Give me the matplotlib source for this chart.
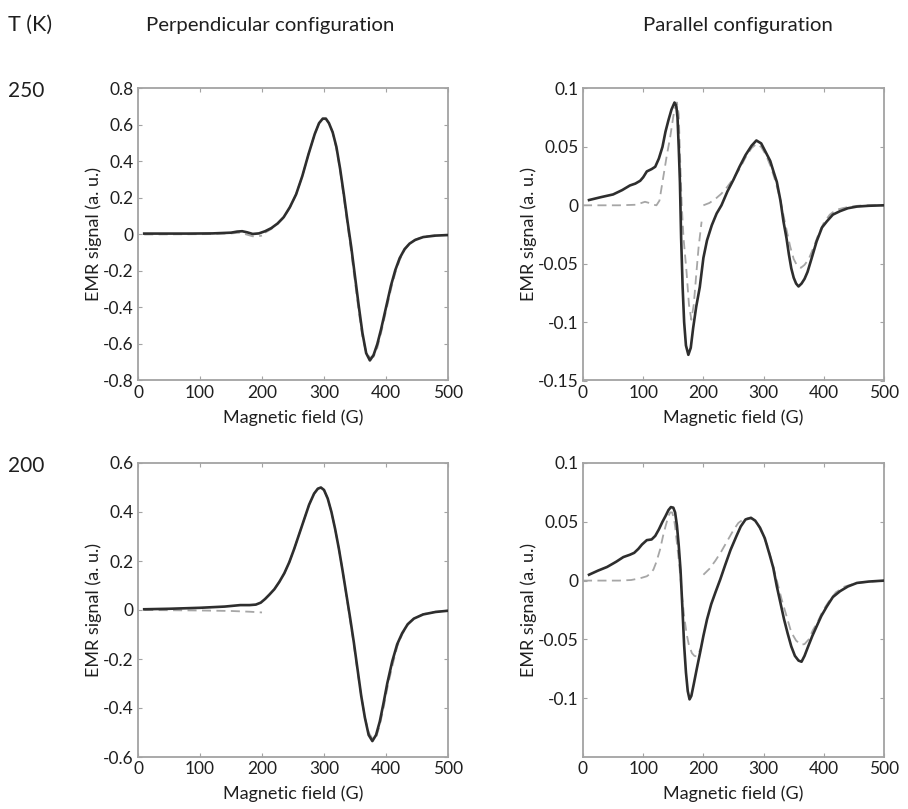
#!/usr/bin/env python3
"""EMR spectra at 250 K and 200 K in perpendicular and parallel configuration.

Solid lines are the measured derivative spectra, dashed lines the simulated ones.
The simulation is split at 200 G, so each dashed trace carries a NaN break there.
"""

from __future__ import annotations

import matplotlib

matplotlib.use("Agg")
import matplotlib.pyplot as plt
import numpy as np

NAN = np.nan

# ---- Perpendicular configuration, 250 K -------------------------------------
PERP_250_FIELD = [10, 40, 80, 120, 150, 160, 168, 176, 185, 195, 205, 215, 225, 235,
                  245, 255, 265, 275, 285, 292, 298, 303, 308, 314, 320, 326, 332, 338,
                  344, 350, 356, 362, 368, 374, 380, 386, 392, 400, 408, 415, 422, 430,
                  438, 447, 460, 480, 500]
PERP_250_EXP = [0.005, 0.005, 0.005, 0.006, 0.01, 0.016, 0.018, 0.012, 0.003, 0.006,
                0.018, 0.035, 0.06, 0.095, 0.15, 0.22, 0.32, 0.44, 0.55, 0.61, 0.635,
                0.635, 0.61, 0.56, 0.48, 0.36, 0.22, 0.07, -0.07, -0.23, -0.39, -0.54,
                -0.65, -0.69, -0.66, -0.6, -0.52, -0.4, -0.28, -0.195, -0.13, -0.08,
                -0.05, -0.03, -0.014, -0.006, -0.003]
PERP_250_SIM_FIELD = [10, 60, 110, 150, 165, 175, 185, 195, 200, 200, 205, 215, 225,
                      235, 245, 255, 265, 275, 285, 292, 298, 303, 308, 314, 320, 326,
                      332, 338, 344, 350, 356, 362, 368, 374, 380, 386, 392, 400, 408,
                      415, 422, 430, 438, 447, 460, 480, 500]
PERP_250_SIM = [0.0, 0.001, 0.002, 0.006, 0.01, 0.0, -0.01, -0.009, -0.006, NAN, 0.01,
                0.03, 0.057, 0.093, 0.148, 0.22, 0.32, 0.44, 0.55, 0.61, 0.632, 0.632,
                0.61, 0.56, 0.47, 0.35, 0.2, 0.05, -0.1, -0.26, -0.42, -0.56, -0.645,
                -0.675, -0.67, -0.62, -0.54, -0.42, -0.3, -0.21, -0.14, -0.085, -0.05,
                -0.028, -0.012, -0.004, -0.002]

# ---- Parallel configuration, 250 K ------------------------------------------
PAR_250_FIELD = [10, 30, 50, 65, 78, 87, 95, 100, 106, 114, 120, 126, 132, 137, 142,
                 147, 152, 155, 157, 159, 161, 163, 165.5, 168, 171, 175, 179, 183, 188,
                 194, 200, 206, 214, 222, 230, 240, 250, 260, 270, 280, 288, 296, 304,
                 311, 317, 322, 328, 333, 338, 342, 346, 350, 354, 358, 363, 368, 373,
                 380, 388, 397, 405, 415, 427, 440, 455, 475, 500]
PAR_250_EXP = [0.0045, 0.007, 0.0093, 0.013, 0.017, 0.0186, 0.021, 0.024, 0.029, 0.031,
               0.033, 0.040, 0.05, 0.063, 0.073, 0.082, 0.088, 0.085, 0.075, 0.05, 0.02,
               -0.028, -0.07, -0.1, -0.12, -0.128, -0.122, -0.105, -0.087, -0.07,
               -0.045, -0.03, -0.017, -0.007, 0.0, 0.012, 0.022, 0.033, 0.043, 0.051,
               0.0555, 0.053, 0.045, 0.038, 0.028, 0.02, 0.004, -0.0138, -0.028, -0.042,
               -0.054, -0.062, -0.067, -0.0695, -0.067, -0.063, -0.057, -0.045, -0.031,
               -0.019, -0.0138, -0.008, -0.005, -0.0025, -0.0011, -0.0004, 0.0]
PAR_250_SIM_FIELD = [0, 30, 60, 90, 97, 103, 110, 117, 122, 127, 133, 139, 145, 150,
                     153, 156, 159, 161, 164, 167, 172, 176, 180, 184, 188, 192, 197,
                     198, 200, 210, 220, 230, 240, 250, 260, 270, 280, 288, 296, 304,
                     312, 320, 328, 336, 344, 350, 356, 362, 368, 375, 383, 391, 400,
                     410, 420, 431, 445, 465, 500]
PAR_250_SIM = [0.0, 0.0, 0.0, 0.0005, 0.002, 0.003, 0.002, 0.0005, 0.0, 0.004, 0.023,
               0.042, 0.059, 0.076, 0.084, 0.088, 0.078, 0.045, 0.0, -0.028, -0.057,
               -0.085, -0.098, -0.085, -0.06, -0.036, -0.014, NAN, 0.0, 0.002, 0.0055,
               0.01, 0.016, 0.023, 0.031, 0.041, 0.049, 0.0525, 0.05, 0.043, 0.033,
               0.02, 0.004, -0.016, -0.035, -0.046, -0.052, -0.0535, -0.051, -0.046,
               -0.036, -0.025, -0.015, -0.008, -0.004, -0.0025, -0.001, 0.0, 0.0]

# ---- Perpendicular configuration, 200 K -------------------------------------
PERP_200_FIELD = [10, 50, 100, 140, 165, 180, 190, 198, 205, 212, 220, 228, 236, 244,
                  252, 260, 268, 276, 284, 290, 295, 300, 306, 312, 318, 324, 330, 336,
                  342, 348, 354, 360, 366, 372, 378, 384, 390, 396, 402, 410, 418, 426,
                  435, 445, 460, 480, 500]
PERP_200_EXP = [0.003, 0.005, 0.009, 0.014, 0.02, 0.02, 0.022, 0.03, 0.045, 0.063,
                0.085, 0.115, 0.15, 0.195, 0.25, 0.31, 0.37, 0.43, 0.475, 0.495, 0.5,
                0.49, 0.455, 0.4, 0.33, 0.25, 0.16, 0.065, -0.03, -0.13, -0.24, -0.35,
                -0.44, -0.51, -0.535, -0.51, -0.455, -0.38, -0.3, -0.21, -0.14, -0.095,
                -0.058, -0.035, -0.018, -0.008, -0.003]
PERP_200_SIM_FIELD = [10, 50, 100, 150, 180, 200, 201, 205, 212, 220, 228, 236, 244,
                      252, 260, 268, 276, 284, 290, 295, 300, 306, 312, 318, 324, 330,
                      336, 342, 348, 354, 360, 366, 372, 378, 384, 390, 396, 402, 410,
                      418, 426, 435, 445, 460, 480, 500]
PERP_200_SIM = [0.0, -0.001, -0.002, -0.004, -0.007, -0.01, NAN, 0.045, 0.063, 0.085,
                0.115, 0.15, 0.195, 0.25, 0.31, 0.37, 0.43, 0.475, 0.495, 0.5, 0.49,
                0.455, 0.4, 0.33, 0.25, 0.16, 0.06, -0.04, -0.14, -0.25, -0.35, -0.44,
                -0.5, -0.525, -0.52, -0.47, -0.4, -0.32, -0.23, -0.15, -0.1, -0.06,
                -0.035, -0.017, -0.007, -0.003]

# ---- Parallel configuration, 200 K ------------------------------------------
PAR_200_FIELD = [10, 25, 40, 55, 67, 78, 85, 92, 98, 106, 114, 120, 126, 132, 137, 142,
                 146, 150, 153, 156, 159, 162, 165, 168, 171, 174, 177, 180, 184, 189,
                 195, 200, 206, 213, 220, 228, 236, 245, 255, 262, 270, 279, 286, 294,
                 302, 310, 316, 322, 328, 334, 340, 346, 352, 358, 363, 368, 374, 381,
                 388, 396, 405, 415, 427, 440, 455, 475, 500]
PAR_200_EXP = [0.005, 0.0085, 0.0116, 0.016, 0.020, 0.022, 0.0236, 0.027, 0.0307, 0.0344,
               0.035, 0.038, 0.0435, 0.05, 0.0548, 0.06, 0.0625, 0.062, 0.058, 0.047,
               0.03, 0.009, -0.022, -0.055, -0.078, -0.094, -0.101, -0.098, -0.088,
               -0.075, -0.06, -0.047, -0.033, -0.02, -0.01, 0.001, 0.013, 0.026, 0.038,
               0.046, 0.052, 0.0534, 0.051, 0.045, 0.036, 0.022, 0.011, -0.005, -0.019,
               -0.033, -0.045, -0.056, -0.064, -0.068, -0.069, -0.064, -0.056, -0.047,
               -0.039, -0.03, -0.022, -0.014, -0.009, -0.005, -0.002, -0.0008, 0.0]
PAR_200_SIM_FIELD = [0, 30, 60, 80, 95, 106, 112, 117, 122, 128, 133, 137, 142, 145,
                     148, 151, 153, 156, 159, 162, 165, 168, 172, 176, 181, 185, 189,
                     192, 195, 197, 200, 210, 220, 230, 240, 250, 258, 266, 274, 282,
                     290, 298, 306, 314, 322, 330, 338, 346, 354, 362, 368, 375, 382,
                     390, 398, 408, 420, 435, 455, 475, 500]
PAR_200_SIM = [0.0, 0.0, 0.0, 0.0005, 0.002, 0.0037, 0.006, 0.0094, 0.016, 0.0264,
               0.038, 0.046, 0.055, 0.058, 0.058, 0.053, 0.046, 0.032, 0.018, 0.002,
               -0.016, -0.03, -0.045, -0.055, -0.0617, -0.064, -0.0645, -0.062, -0.058,
               NAN, 0.005, 0.01, 0.017, 0.025, 0.034, 0.043, 0.049, 0.052, 0.053,
               0.0525, 0.048, 0.04, 0.03, 0.016, 0.0, -0.016, -0.03, -0.044, -0.051,
               -0.0545, -0.054, -0.05, -0.042, -0.035, -0.026, -0.018, -0.01, -0.005,
               -0.002, -0.001, 0.0]

FIELD_TICKS = [0, 100, 200, 300, 400, 500]
PERP_250_TICKS = [-0.8, -0.6, -0.4, -0.2, 0, 0.2, 0.4, 0.6, 0.8]
PERP_200_TICKS = [-0.6, -0.4, -0.2, 0, 0.2, 0.4, 0.6]
PAR_250_TICKS = [-0.15, -0.1, -0.05, 0, 0.05, 0.1]
PAR_200_TICKS = [-0.1, -0.05, 0, 0.05, 0.1]

TEMPERATURES = ["250", "200"]
COLUMN_TITLES = ["Perpendicular configuration", "Parallel configuration"]

FONT = ["Lato", "DejaVu Sans"]
EXP_COLOR = "#2e2e2e"
SIM_COLOR = "#a6a6a6"
FRAME_COLOR = "#a3a3a3"
TEXT_COLOR = "#1f1f1f"


def tick_text(value: float) -> str:
    """MATLAB-like tick labels: plain hyphen minus and no trailing zeros."""
    if value == 0:
        return "0"
    return f"{value:g}"


def draw_panel(ax, field, exp, sim_field, sim, yticks, ylim):
    ax.plot(sim_field, sim, color=SIM_COLOR, linewidth=1.3, dashes=(5, 3), zorder=2)
    ax.plot(field, exp, color=EXP_COLOR, linewidth=1.9, zorder=3)

    ax.set_xlim(0, 500)
    ax.set_ylim(*ylim)
    ax.set_xticks(FIELD_TICKS, [tick_text(v) for v in FIELD_TICKS])
    ax.set_yticks(yticks, [tick_text(v) for v in yticks])
    ax.tick_params(direction="in", length=3, width=0.8, color=FRAME_COLOR,
                   top=True, right=True, labelsize=12.5, labelcolor=TEXT_COLOR, pad=3)
    for spine in ax.spines.values():
        spine.set_color(FRAME_COLOR)
        spine.set_linewidth(1.3)
    ax.set_xlabel("Magnetic field (G)", fontsize=13, color=TEXT_COLOR, labelpad=6)
    ax.set_ylabel("EMR signal (a. u.)", fontsize=13, color=TEXT_COLOR, labelpad=1)


def build() -> str:
    plt.rcParams.update({"font.family": FONT, "axes.unicode_minus": False})
    fig = plt.figure(figsize=(9.08, 8.09), dpi=100)
    fig.patch.set_facecolor("white")

    W, H = 908.0, 809.0

    def axes_px(left, top, right, bottom):
        return fig.add_axes([left / W, 1 - bottom / H, (right - left) / W, (bottom - top) / H])

    ax_tl = axes_px(138, 88.5, 448, 380.5)
    ax_tr = axes_px(583, 88.5, 884, 380.5)
    ax_bl = axes_px(138, 463, 448, 757)
    ax_br = axes_px(583, 463, 884, 757)

    draw_panel(ax_tl, PERP_250_FIELD, PERP_250_EXP, PERP_250_SIM_FIELD, PERP_250_SIM,
               PERP_250_TICKS, (-0.8, 0.8))
    draw_panel(ax_tr, PAR_250_FIELD, PAR_250_EXP, PAR_250_SIM_FIELD, PAR_250_SIM,
               PAR_250_TICKS, (-0.15, 0.1))
    draw_panel(ax_bl, PERP_200_FIELD, PERP_200_EXP, PERP_200_SIM_FIELD, PERP_200_SIM,
               PERP_200_TICKS, (-0.6, 0.6))
    draw_panel(ax_br, PAR_200_FIELD, PAR_200_EXP, PAR_200_SIM_FIELD, PAR_200_SIM,
               PAR_200_TICKS, (-0.15, 0.1))

    # Row and column headings sit in figure pixels, outside the axes.
    fig.text(8 / W, 1 - 25 / H, "T (K)", fontsize=15.5, color=TEXT_COLOR,
             ha="left", va="center")
    fig.text(146 / W, 1 - 25 / H, COLUMN_TITLES[0], fontsize=14.7, color=TEXT_COLOR,
             ha="left", va="center")
    fig.text(738 / W, 1 - 25 / H, COLUMN_TITLES[1], fontsize=14.7, color=TEXT_COLOR,
             ha="center", va="center")
    fig.text(8 / W, 1 - 91 / H, TEMPERATURES[0], fontsize=15, color=TEXT_COLOR,
             ha="left", va="center")
    fig.text(8 / W, 1 - 466 / H, TEMPERATURES[1], fontsize=15, color=TEXT_COLOR,
             ha="left", va="center")

    fig.savefig("out.png", dpi=100, facecolor="white")
    plt.close(fig)
    return "out.png"


if __name__ == "__main__":
    print(f"Wrote {build()}")
